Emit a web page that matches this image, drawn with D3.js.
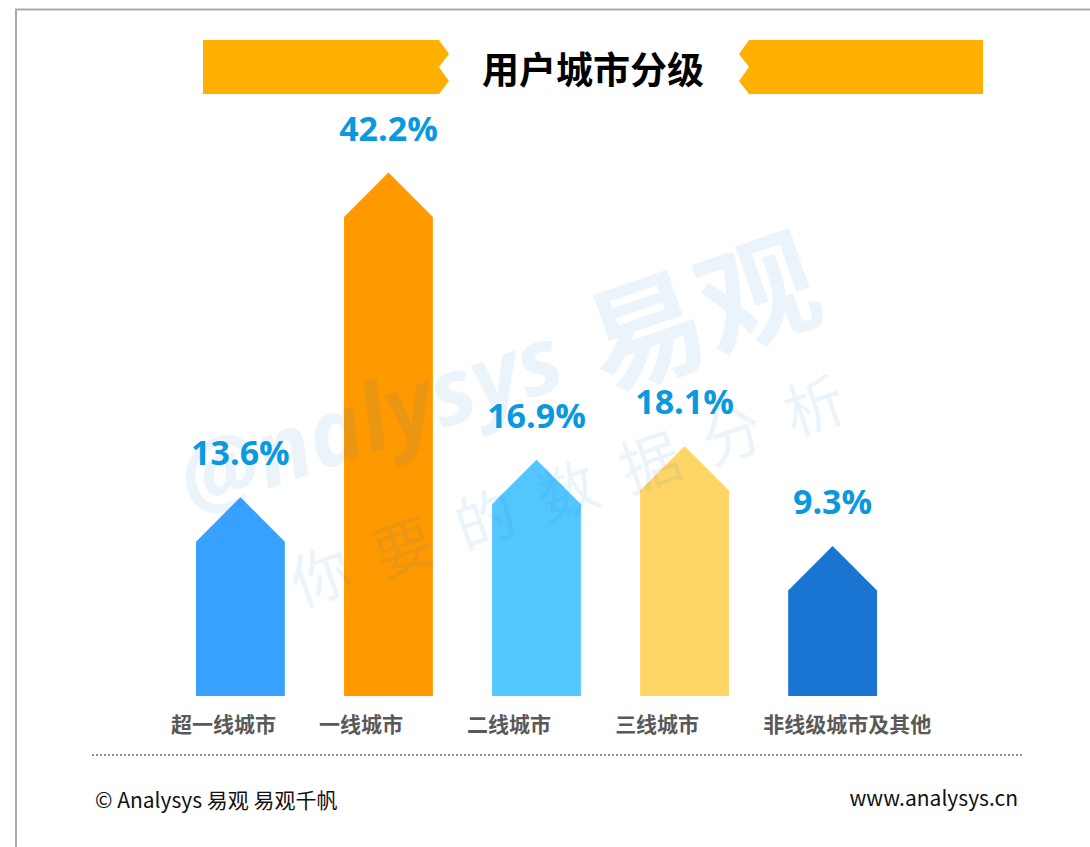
<!DOCTYPE html>
<html>
<head>
<meta charset="utf-8">
<script src="https://cdn.jsdelivr.net/npm/d3@7"></script>
<style>
  html, body { margin: 0; padding: 0; background: #fff; }
  svg { display: block; }
</style>
</head>
<body>
<script>
const width = 1090;
const height = 847;

// data
const categories = ['超一线城市', '一线城市', '二线城市', '三线城市', '非线级城市及其他'];
const shares = [13.6, 42.2, 16.9, 18.1, 9.3];
const barColors = ['#37a1ff', '#ff9900', '#54c6ff', '#ffd665', '#1a75d2'];
const title = '用户城市分级';
const footerLeft = '© Analysys 易观 易观千帆';
const footerRight = 'www.analysys.cn';

const baseY = 696;

const svg = d3.select('body')
    .append('svg')
    .attr('width', width)
    .attr('height', height);

// frame
svg.append('rect')
    .attr('x', 16).attr('y', 9.5)
    .attr('width', 1200).attr('height', 1000)
    .attr('fill', 'none')
    .attr('stroke', '#a9a9a9')
    .attr('stroke-width', 2);

// title banner
svg.append('polygon')
    .attr('points', '203,40 439,40 449,54 439,67 449,81 439,94 203,94')
    .attr('fill', '#ffb000');
svg.append('polygon')
    .attr('points', '749,40 983,40 983,94 749,94 739,81 749,67 739,54')
    .attr('fill', '#ffb000');
svg.append('text')
    .attr('x', 593).attr('y', 68)
    .attr('text-anchor', 'middle')
    .attr('dominant-baseline', 'central')
    .attr('font-family', '"Noto Sans CJK SC", sans-serif')
    .attr('font-weight', 'bold')
    .attr('font-size', 37)
    .attr('fill', '#000')
    .text(title);

// scales
const x = d3.scaleBand()
    .domain(categories)
    .range([196, 877])
    .paddingInner(0.4)
    .paddingOuter(0);

const y = d3.scaleLinear()
    .domain([0, d3.max(shares)])
    .range([baseY, 217]);

const bw = x.bandwidth();
const roof = bw / 2;

function arrow(cat, v) {
    const x0 = x(cat), x1 = x0 + bw, xc = x0 + bw / 2, ys = y(v);
    return `M${x0},${baseY}L${x0},${ys}L${xc},${ys - roof}L${x1},${ys}L${x1},${baseY}Z`;
}

// bars
svg.append('g')
    .selectAll('path')
    .data(categories)
    .join('path')
    .attr('d', (d, i) => arrow(d, shares[i]))
    .attr('fill', (d, i) => barColors[i]);

// watermark
const wm = svg.append('g')
    .attr('transform', 'translate(192,515) rotate(-19)')
    .attr('fill', 'rgb(30,120,210)')
    .attr('fill-opacity', 0.09);
wm.append('text')
    .attr('x', 0).attr('y', 0)
    .attr('font-family', '"Open Sans", sans-serif')
    .attr('font-weight', 'bold')
    .attr('font-style', 'italic')
    .attr('font-size', 92)
    .text('@nalysys');
wm.append('text')
    .attr('x', 430).attr('y', 18)
    .attr('font-family', '"Noto Sans CJK SC", sans-serif')
    .attr('font-weight', 'bold')
    .attr('font-size', 118)
    .text('易观');
wm.append('text')
    .attr('x', 72).attr('y', 122)
    .attr('font-family', '"Noto Sans CJK SC", sans-serif')
    .attr('font-size', 60)
    .attr('letter-spacing', 27)
    .text('你要的数据分析');

// value labels
svg.append('g')
    .selectAll('text')
    .data(categories)
    .join('text')
    .attr('x', d => x(d) + bw / 2)
    .attr('y', (d, i) => y(shares[i]) - roof - 32)
    .attr('text-anchor', 'middle')
    .attr('font-family', '"Open Sans", sans-serif')
    .attr('font-weight', 'bold')
    .attr('font-size', 34)
    .attr('fill', '#0a98de')
    .text((d, i) => shares[i].toFixed(1) + '%');

// category labels
svg.append('g')
    .selectAll('text')
    .data(categories)
    .join('text')
    .attr('x', d => x(d) - 25)
    .attr('y', 732)
    .attr('font-family', '"Noto Sans CJK SC", sans-serif')
    .attr('font-weight', 'bold')
    .attr('font-size', 21)
    .attr('fill', '#595959')
    .text(d => d);

// dotted separator
svg.append('line')
    .attr('x1', 92).attr('x2', 1022)
    .attr('y1', 755).attr('y2', 755)
    .attr('stroke', '#8c8c8c')
    .attr('stroke-width', 2)
    .attr('stroke-dasharray', '2,2');

// footer
svg.append('text')
    .attr('x', 95).attr('y', 808)
    .attr('font-family', '"Noto Sans CJK SC", sans-serif')
    .attr('font-size', 21)
    .attr('fill', '#111')
    .text(footerLeft);
svg.append('text')
    .attr('x', 1018).attr('y', 806)
    .attr('text-anchor', 'end')
    .attr('font-family', '"Noto Sans CJK SC", sans-serif')
    .attr('font-size', 21)
    .attr('fill', '#111')
    .text(footerRight);
</script>
</body>
</html>
